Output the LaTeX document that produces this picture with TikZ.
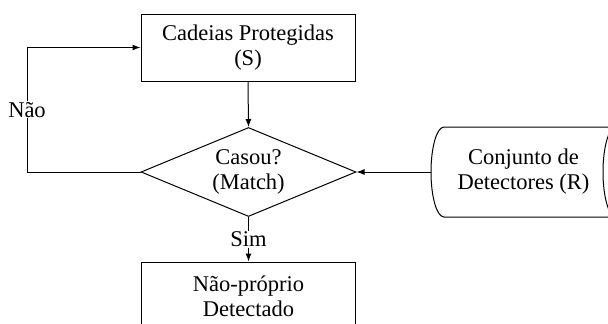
\documentclass[tikz,border=0pt]{standalone}
\usepackage{fontspec}
\setmainfont{Liberation Serif}
\usetikzlibrary{shapes.geometric,arrows.meta}

\begin{document}
\begin{tikzpicture}[x=1pt,y=-1pt,line width=1pt,>={Latex[length=8pt,width=6pt]},
    every node/.style={font=\rmfamily\fontsize{22.5}{25}\selectfont,align=center},
    procbox/.style={draw,rectangle,minimum width=214pt,inner sep=0pt},
    decision/.style={draw,diamond,aspect=2.4,minimum width=215pt,minimum height=89pt,inner sep=0pt},
    cutlabel/.style={fill=white,inner sep=1pt}]
        \clip (0,0) rectangle (608,324);
        \node[procbox,minimum height=67pt] (prot) at (248,47.5) {Cadeias Protegidas\\(S)};
        \node[decision] (casou) at (248.5,172) {Casou?\\(Match)};
        \node[procbox,minimum height=68pt] (naoproprio) at (248.5,296) {Não-próprio\\Detectado};
        % conjunto de detectores (dados armazenados)
        \draw (444,127) -- (616,127) arc[start angle=90,end angle=270,x radius=13pt,y radius=45pt]
            -- (444,217) arc[start angle=270,end angle=90,x radius=13pt,y radius=45pt] -- cycle;
        \node (det) at (523.5,172) {Conjunto de\\Detectores (R)};
        \coordinate (detin) at (431,172);
        \coordinate (naobend) at (27,172);
        \draw[->] (prot.south) -- (casou.north);
        \draw[->] (detin) -- (casou.east);
        \draw[->] (casou.south) -- node[cutlabel] {Sim} (naoproprio.north);
        \draw[->] (casou.west) -- (naobend) |- node[cutlabel,pos=0.25] {Não} (prot.west);
    \end{tikzpicture}
\end{document}
